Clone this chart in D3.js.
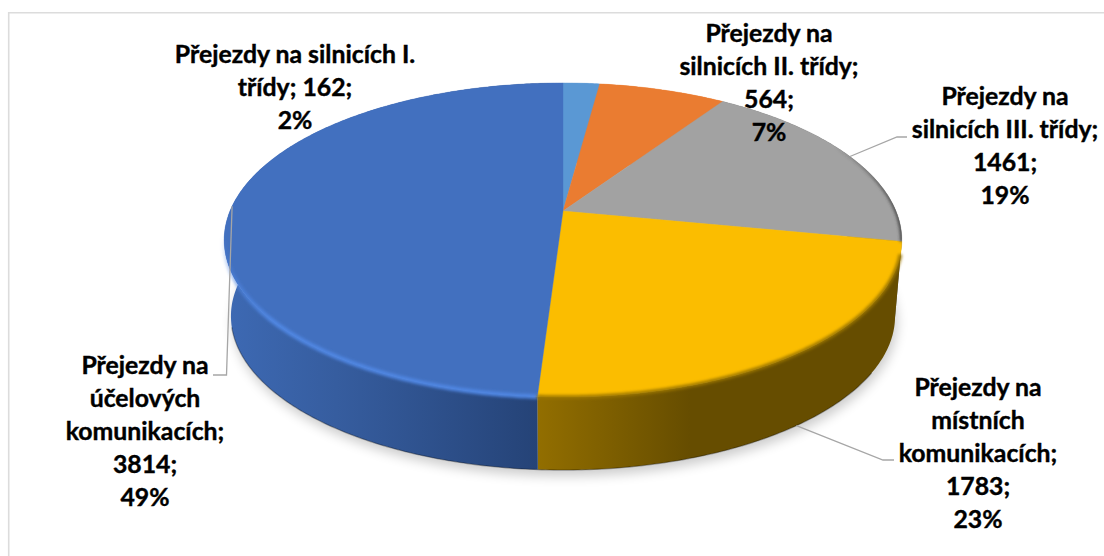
<!DOCTYPE html>
<html lang="cs">
<head>
    <meta charset="UTF-8">
    <title>Přejezdy</title>
    <script src="https://d3js.org/d3.v7.min.js"></script>
    <style>
        body { margin: 0; background: #fff; }
        svg { display: block; }
        .label { font-family: Lato, sans-serif; font-weight: 700; font-size: 24.8px; fill: #000; text-anchor: middle; stroke: #000; stroke-width: 0.4; }
        .leader { fill: none; stroke: #a6a6a6; stroke-width: 1.3; }
    </style>
</head>
<body>
<div id="chart"></div>
<script>
    // data
    const nameLines = [
        ["Přejezdy na silnicích I.", "třídy"],
        ["Přejezdy na", "silnicích II. třídy"],
        ["Přejezdy na", "silnicích III. třídy"],
        ["Přejezdy na", "místních", "komunikacích"],
        ["Přejezdy na", "účelových", "komunikacích"]
    ];
    const values = [162, 564, 1461, 1783, 3814];
    const colors = ["#5a98d4", "#ea7c31", "#a2a2a2", "#fbbd00", "#4270bf"];
    const valueInline = [true, false, false, false, false];

    // label placement, same order as values
    const labelX = [295, 769, 1005, 978, 145];
    const labelY = [63, 42, 105, 396, 374];
    const lineStep = 33;
    // leader lines: [elbow x, elbow y, end x], null = no line
    const elbows = [null, null, [897, 137, 907], [883, 460, 894], [226.5, 375, 213]];

    const width = 1104, height = 556;
    const svg = d3.select("#chart").append("svg")
        .attr("width", width).attr("height", height);
    const defs = svg.append("defs");

    // perspective projection of the pie's disc
    const cx = 563, apexY = 211, rx = 333, ry = 151.7, k = 0.1848;
    const topRim = a => {
        const w = 1 + k * Math.cos(a);
        return [cx + rx * Math.sin(a) / w, apexY - ry * Math.cos(a) / w];
    };
    const bottomRim = a => {
        const w = 1 + k * Math.cos(a);
        return [cx + 0.98 * rx * Math.sin(a) / w, apexY + 76.7 - 0.98 * ry * Math.cos(a) / w];
    };
    const samples = (a0, a1) => {
        const n = Math.max(2, Math.ceil((a1 - a0) / 0.01));
        return d3.range(n + 1).map(i => a0 + (a1 - a0) * i / n);
    };
    const line = d3.line();

    const pie = d3.pie().sort(null).value(d => d);
    const arcs = pie(values);
    const total = d3.sum(values);

    // filters and gradients
    const blur = (id, s) => defs.append("filter").attr("id", id)
        .attr("x", "-20%").attr("y", "-20%").attr("width", "140%").attr("height", "140%")
        .append("feGaussianBlur").attr("stdDeviation", s);
    blur("shadowBlur", 6);
    blur("rimBlur", 1.4);
    blur("edgeBlur", 0.6);

    const grad = (id, x1, y1, x2, y2, stops) => {
        const g = defs.append("linearGradient").attr("id", id)
            .attr("gradientUnits", "userSpaceOnUse")
            .attr("x1", x1).attr("y1", y1).attr("x2", x2).attr("y2", y2);
        stops.forEach(s => g.append("stop").attr("offset", s[0]).attr("stop-color", s[1]).attr("stop-opacity", s[2] === undefined ? 1 : s[2]));
    };
    grad("wall4", 228, 0, 538, 0, [[0, "#3d69b3"], [0.35, "#365d9f"], [1, "#254377"]]);
    grad("wall3", 538, 0, 900, 0, [[0, "#926e00"], [0.42, "#664d00"], [1, "#664d00"]]);
    grad("wall2", 850, 0, 900, 0, [[0, "#5f5f5f"], [1, "#5f5f5f"]]);
    grad("rim4", 0, 235, 0, 320, [[0, "#4f86e2", 0], [1, "#4f86e2", 1]]);
    grad("rim2", 835, 0, 902, 0, [[0, "#3c3c3c", 0], [1, "#3c3c3c", 0.9]]);
    const wallFill = i => i >= 2 ? `url(#wall${i})` : colors[i];

    // chart frame, only top and left sides show
    svg.append("path")
        .attr("d", line([[8.7, height], [8.7, 12.7], [width, 12.7]]))
        .attr("fill", "none").attr("stroke", "#dcdcdc").attr("stroke-width", 1.6);

    // soft shadow under the disc
    svg.append("path")
        .attr("d", line(samples(0, 2 * Math.PI).map(a => {
            const p = bottomRim(a);
            return [p[0] + 2, p[1] + 6];
        })) + "Z")
        .attr("fill", "#000").attr("opacity", 0.2).attr("filter", "url(#shadowBlur)");

    // side wall: strips between the top and the bottom rim of each slice
    svg.append("g").selectAll("path").data(arcs).join("path")
        .attr("fill", (d, i) => wallFill(i))
        .attr("d", d => {
            const as = samples(d.startAngle, d.endAngle);
            return d3.pairs(as).map(([a, b]) =>
                line([topRim(a), topRim(b), bottomRim(b), bottomRim(a)]) + "Z").join("");
        });

    // dark edge along the foot of the wall
    svg.append("path")
        .attr("d", line(samples(arcs[3].startAngle + 0.35, arcs[4].startAngle + 1.25).map(bottomRim)))
        .attr("fill", "none").attr("stroke", "#000").attr("stroke-width", 1.3)
        .attr("opacity", 0.3).attr("filter", "url(#edgeBlur)");

    // top face
    const sliceD = d => line([[cx, apexY], ...samples(d.startAngle, d.endAngle).map(topRim)]) + "Z";
    defs.append("clipPath").attr("id", "faceClip").append("path")
        .attr("d", line(samples(0, 2 * Math.PI).map(topRim)) + "Z");
    svg.append("g").selectAll("path").data(arcs).join("path")
        .attr("d", sliceD)
        .attr("fill", (d, i) => colors[i])
        .attr("stroke", (d, i) => colors[i]).attr("stroke-width", 0.4);

    // bevel highlights on the top rim
    const rim = (d, stroke, w) => svg.append("path")
        .attr("d", line(samples(d.startAngle, d.endAngle).map(topRim)))
        .attr("fill", "none").attr("stroke", stroke).attr("stroke-width", w)
        .attr("filter", "url(#rimBlur)");
    rim({startAngle: arcs[4].startAngle, endAngle: arcs[4].startAngle + 1.6}, "url(#rim4)", 4.5);
    rim({startAngle: arcs[3].startAngle + 0.08, endAngle: arcs[3].endAngle}, "#9a7500", 3.5);
    rim(arcs[2], "url(#rim2)", 3.5).attr("clip-path", "url(#faceClip)");

    // leader lines start at the middle of the slice
    elbows.forEach((e, i) => {
        if (!e) return;
        const mid = (arcs[i].startAngle + arcs[i].endAngle) / 2;
        const start = i === 3 ? bottomRim(mid) : topRim(mid);
        svg.append("path").attr("class", "leader")
            .attr("d", line([start, [e[0], e[1]], [e[2], e[1]]]));
    });

    // data labels
    const pct = d3.format(".0%");
    values.forEach((v, i) => {
        const rows = nameLines[i].slice();
        const last = rows.length - 1;
        if (valueInline[i]) {
            rows[last] += `; ${v};`;
        } else {
            rows[last] += ";";
            rows.push(`${v};`);
        }
        rows.push(pct(v / total));
        svg.append("text").attr("class", "label")
            .selectAll("tspan").data(rows).join("tspan")
            .attr("x", labelX[i])
            .attr("y", (r, j) => labelY[i] + j * lineStep)
            .text(r => r);
    });
</script>
</body>
</html>
